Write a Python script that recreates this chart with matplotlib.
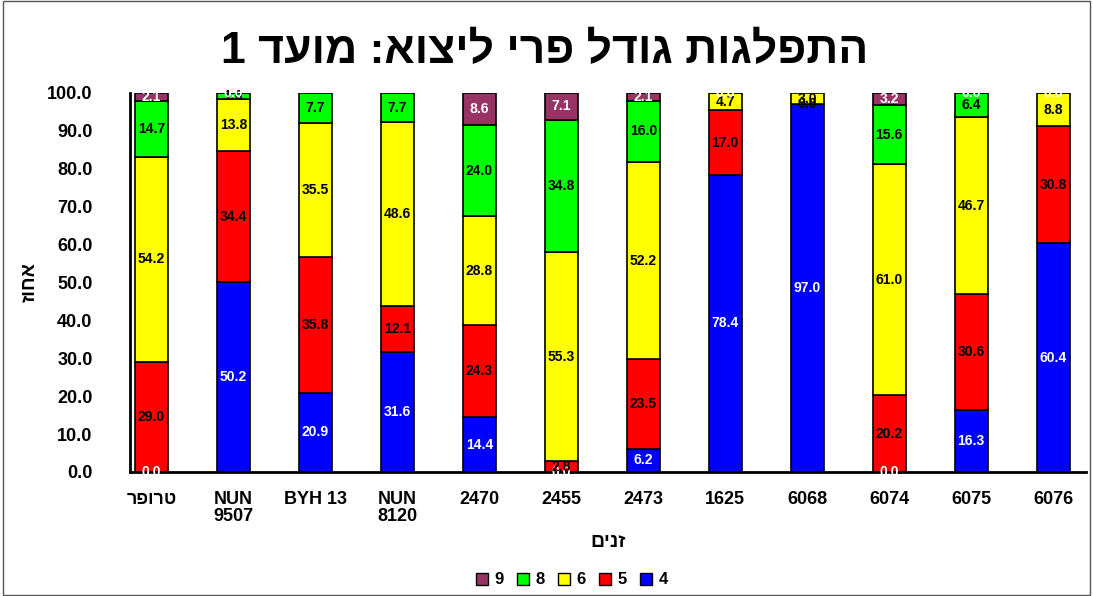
import numpy as np
import matplotlib
matplotlib.use("Agg")
import matplotlib.pyplot as plt
from matplotlib.patches import Rectangle, Patch

plt.rcParams['font.family'] = ['Liberation Sans', 'DejaVu Sans']
plt.rcParams['font.weight'] = 'bold'

categories = ["רפורט", "NUN\n9507", "BYH 13", "NUN\n8120", "2470", "2455",
              "2473", "1625", "6068", "6074", "6075", "6076"]
series_names = ["4", "5", "6", "8", "9"]
s4 = [0.0, 50.2, 20.9, 31.6, 14.4, 0.0, 6.2, 78.4, 97.0, 0.0, 16.3, 60.4]
s5 = [29.0, 34.4, 35.8, 12.1, 24.3, 2.8, 23.5, 17.0, 0.0, 20.2, 30.6, 30.8]
s6 = [54.2, 13.8, 35.5, 48.6, 28.8, 55.3, 52.2, 4.7, 3.0, 61.0, 46.7, 8.8]
s8 = [14.7, 1.6, 7.7, 7.7, 24.0, 34.8, 16.0, np.nan, np.nan, 15.6, 6.4, np.nan]
s9 = [2.1, 0.0, np.nan, np.nan, 8.6, 7.1, 2.1, 0.0, np.nan, 3.2, 0.0, 0.0]

title = "1 דעומ :אוציל ירפ לדוג תוגלפתה"
xlabel = "םינז"
ylabel = "זוחא"

colors = ["#0000FF", "#FF0000", "#FFFF00", "#00FF00", "#993366"]
label_colors = ["white", "black", "black", "black", "white"]

fig = plt.figure(figsize=(10.93, 5.96), dpi=100)
ax = fig.add_axes([130/1093, 1-472/596, (1086-130)/1093, (472-93)/596])

x = np.arange(len(categories))
bottom = np.zeros(len(categories))
handles = []
for name, vals, col, lc in zip(series_names, [s4, s5, s6, s8, s9], colors, label_colors):
    v = np.array(vals, dtype=float)
    ax.bar(x, v, width=0.4, bottom=bottom, color=col, edgecolor='black',
           linewidth=1.2, label=name, zorder=2)
    for xi, vi, bi in zip(x, v, bottom):
        if np.isnan(vi):
            continue
        ax.text(xi, bi + vi/2, f"{vi:.1f}", ha='center', va='center', color=lc,
                fontsize=10, fontweight='bold', zorder=3)
    bottom = bottom + np.nan_to_num(v)
    handles.append(Patch(facecolor=col, edgecolor='black', label=name))

ax.set_xlim(-0.26, 11.4)
ax.set_ylim(0, 100)
ax.set_yticks(np.arange(0, 101, 10))
ax.set_yticklabels([f"{t:.1f}" for t in np.arange(0, 101, 10)], fontsize=13, fontweight='bold')
ax.set_xticks(x)
ax.set_xticklabels(categories, fontsize=13, fontweight='bold', linespacing=1.0)
ax.tick_params(axis='x', length=0, pad=14)
ax.tick_params(axis='y', length=0, pad=27)
for s in ['top', 'right']:
    ax.spines[s].set_visible(False)
ax.spines['left'].set_linewidth(2)
ax.spines['bottom'].set_linewidth(2)

ax.set_xlabel(xlabel, fontsize=14, fontweight='bold', labelpad=6)
ax.set_ylabel(ylabel, fontsize=14, fontweight='bold', rotation=90, labelpad=6)

fig.text(545/1093, 1-52/596, title, ha='center', va='center', fontsize=32, fontweight='bold')

fig.legend(handles=handles[::-1], loc='center', bbox_to_anchor=(572/1093, 1-580/596),
           ncol=5, frameon=False, handlelength=0.7, handleheight=0.7,
           handletextpad=0.4, columnspacing=0.8, prop={'weight': 'bold', 'size': 12})

fig.patches.append(Rectangle((3/1093, 0.002), 1-6/1093, 0.996, transform=fig.transFigure,
                             fill=False, edgecolor='#555555', linewidth=1))

fig.savefig("out.png", dpi=100)
